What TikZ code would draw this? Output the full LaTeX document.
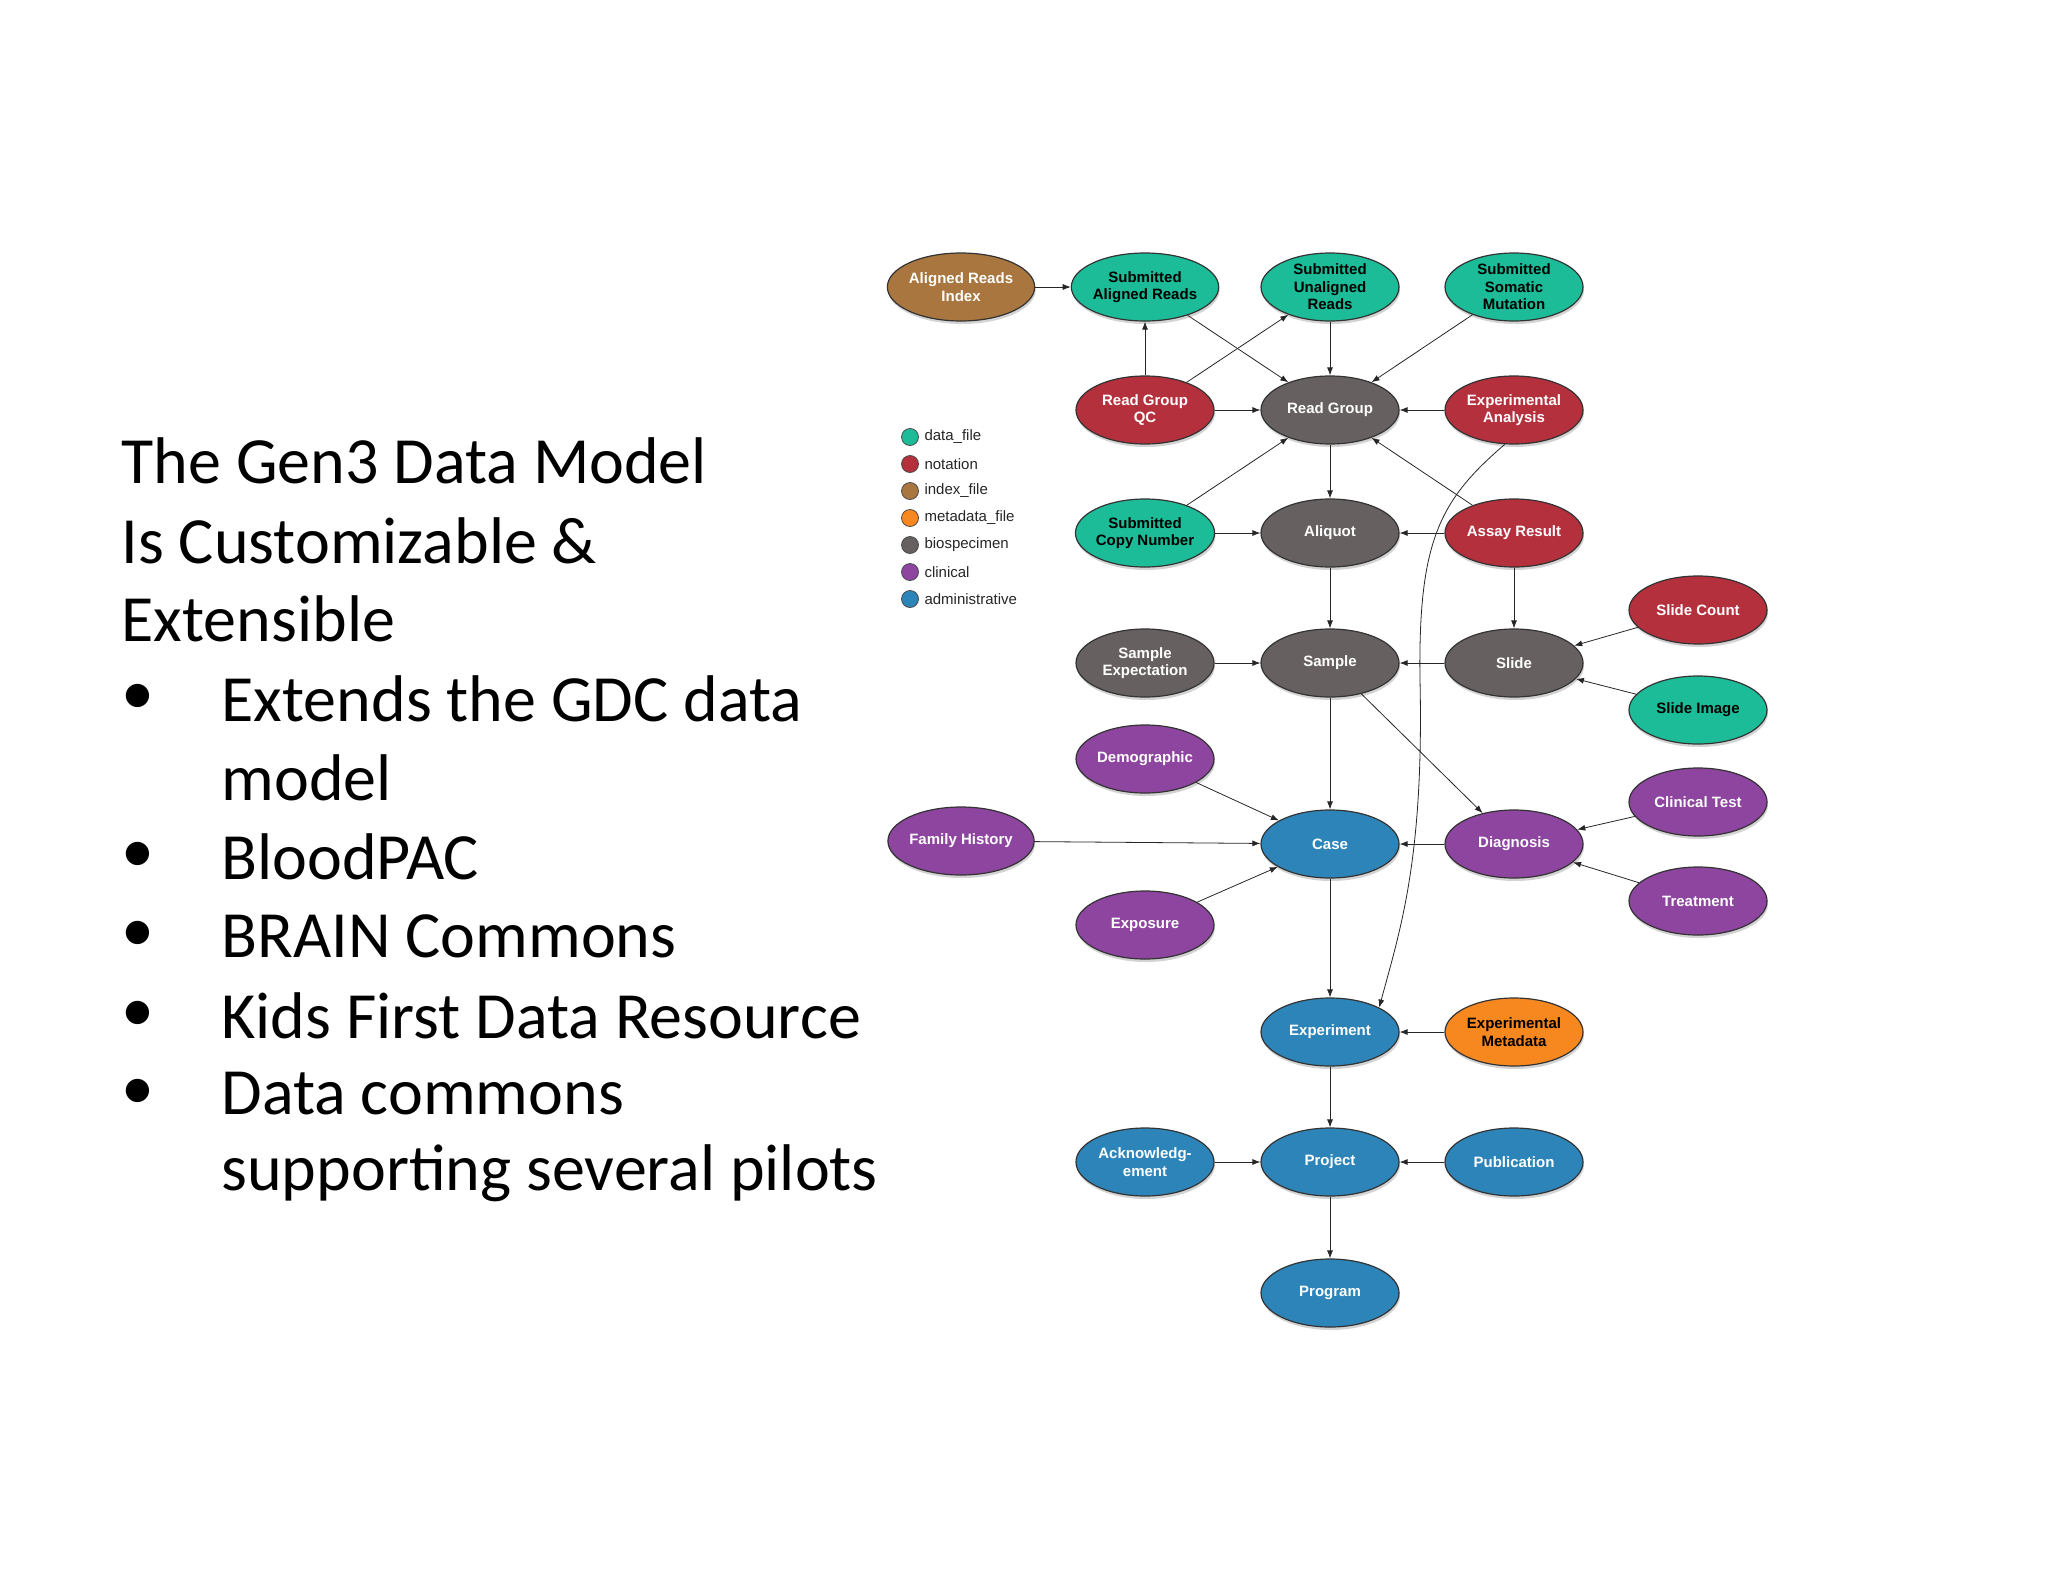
\documentclass[tikz,border=0pt]{standalone}
\usepackage{fontspec}
\setmainfont{Carlito}
\newfontfamily\nodefont{Liberation Sans}
\usetikzlibrary{shapes.geometric,shadows,arrows.meta}
\definecolor{cdata}{HTML}{1CBC98}
\definecolor{cnot}{HTML}{B3303C}
\definecolor{cidx}{HTML}{A8763E}
\definecolor{cmeta}{HTML}{F7871F}
\definecolor{cbio}{HTML}{676060}
\definecolor{cclin}{HTML}{8D45A0}
\definecolor{cadm}{HTML}{2D84B8}
\begin{document}
\begin{tikzpicture}[x=1pt,y=-1pt,
  nd/.style={ellipse,draw=black!80,line width=1.2pt,minimum width=138pt,minimum height=68pt,inner sep=0pt,
    align=center,text=white,font=\nodefont\fontsize{15}{17.5}\selectfont\bfseries,
    drop shadow={shadow xshift=1pt,shadow yshift=-3pt,opacity=0.35}},
  df/.style={nd,fill=cdata,text=black},
  nt/.style={nd,fill=cnot},
  ix/.style={nd,fill=cidx},
  md/.style={nd,fill=cmeta,text=black},
  bs/.style={nd,fill=cbio},
  cl/.style={nd,fill=cclin},
  ad/.style={nd,fill=cadm},
  ar/.style={-{Latex[length=8pt,width=6pt]},line width=0.8pt,black!85},
  lg/.style={circle,draw=black!70,line width=0.8pt,minimum size=17pt,inner sep=0pt},
  lt/.style={anchor=west,font=\nodefont\fontsize{15}{16}\selectfont,text=black!85},
  mt/.style={anchor=west,font=\fontsize{66}{68}\selectfont}]
\useasboundingbox (0,0) rectangle (2048,1582);
% text
\node[mt] (t1) at (118,461) {The Gen3 Data Model};
\node[mt] (t2) at (118,541) {Is Customizable \&};
\node[mt] (t3) at (118,619) {Extensible};
\node[mt] (b1) at (118,699) {•};
\node[mt] (t4) at (218,699) {Extends the GDC data};
\node[mt] (t5) at (218,778) {model};
\node[mt] (b2) at (118,857) {•};
\node[mt] (t6) at (218,857) {BloodPAC};
\node[mt] (b3) at (118,936) {•};
\node[mt] (t7) at (218,936) {BRAIN Commons};
\node[mt] (b4) at (118,1016) {•};
\node[mt] (t8) at (218,1016) {Kids First Data Resource};
\node[mt] (b5) at (118,1094) {•};
\node[mt] (t9) at (218,1094) {Data commons};
\node[mt] (t10) at (218,1173) {supporting several pilots};
% legend
\foreach \c/\t/\y [count=\i] in {cdata/data\_file/437,cnot/notation/464,cidx/index\_file/491,cmeta/metadata\_file/518,cbio/biospecimen/545,cclin/clinical/572,cadm/administrative/599}{
  \node[lg,fill=\c] (lc\i) at (910,\y) {};
  \node[lt] (lt\i) at (921,\y) {\t};
}
% nodes
\node[ix] (ari) at (961,287) {Aligned Reads\\Index};
\node[df] (sar) at (1145,287) {Submitted\\Aligned Reads};
\node[df] (sur) at (1330,287) {Submitted\\Unaligned\\Reads};
\node[df] (ssm) at (1514,287) {Submitted\\Somatic\\Mutation};
\node[nt] (rgqc) at (1145,410) {Read Group\\QC};
\node[bs] (rg) at (1330,410) {Read Group};
\node[nt] (ea) at (1514,410) {Experimental\\Analysis};
\node[df] (scn) at (1145,533) {Submitted\\Copy Number};
\node[bs] (ali) at (1330,533) {Aliquot};
\node[nt] (ar) at (1514,533) {Assay Result};
\node[nt] (sc) at (1698,610) {Slide Count};
\node[bs] (se) at (1145,663) {Sample\\Expectation};
\node[bs] (sam) at (1330,663) {Sample};
\node[bs] (sl) at (1514,663) {Slide};
\node[df] (si) at (1698,710) {Slide Image};
\node[cl] (dem) at (1145,759) {Demographic};
\node[cl] (ct) at (1698,802) {Clinical Test};
\node[cl] (fh) at (961,841) {Family History};
\node[ad] (case) at (1330,844) {Case};
\node[cl] (dia) at (1514,844) {Diagnosis};
\node[cl] (tr) at (1698,901) {Treatment};
\node[cl] (expo) at (1145,925) {Exposure};
\node[ad] (exp) at (1330,1032) {Experiment};
\node[md] (em) at (1514,1032) {Experimental\\Metadata};
\node[ad] (ack) at (1145,1162) {Acknowledg-\\ement};
\node[ad] (proj) at (1330,1162) {Project};
\node[ad] (pub) at (1514,1162) {Publication};
\node[ad] (prog) at (1330,1293) {Program};
% edges
\draw[ar] (ari) -- (sar);
\draw[ar] (rgqc) -- (sar);
\draw[ar] (rgqc) -- (sur);
\draw[ar] (sar) -- (rg);
\draw[ar] (sur) -- (rg);
\draw[ar] (ssm) -- (rg);
\draw[ar] (rgqc) -- (rg);
\draw[ar] (ea) -- (rg);
\draw[ar] (scn) -- (rg);
\draw[ar] (ar) -- (rg);
\draw[ar] (rg) -- (ali);
\draw[ar] (scn) -- (ali);
\draw[ar] (ar) -- (ali);
\draw[ar] (ali) -- (sam);
\draw[ar] (ar) -- (sl);
\draw[ar] (se) -- (sam);
\draw[ar] (sl) -- (sam);
\draw[ar] (sc) -- (sl);
\draw[ar] (si) -- (sl);
\draw[ar] (sam) -- (case);
\draw[ar] (sam) -- (dia);
\draw[ar] (dem) -- (case);
\draw[ar] (fh) -- (case);
\draw[ar] (expo) -- (case);
\draw[ar] (dia) -- (case);
\draw[ar] (ct) -- (dia);
\draw[ar] (tr) -- (dia);
\draw[ar] (case) -- (exp);
\draw[ar] (ea.255) .. controls (1440,500) and (1418,540) .. (1420,680)
   .. controls (1424,860) and (1400,930) .. (exp.north east);
\draw[ar] (em) -- (exp);
\draw[ar] (exp) -- (proj);
\draw[ar] (ack) -- (proj);
\draw[ar] (pub) -- (proj);
\draw[ar] (proj) -- (prog);
\end{tikzpicture}
\end{document}
